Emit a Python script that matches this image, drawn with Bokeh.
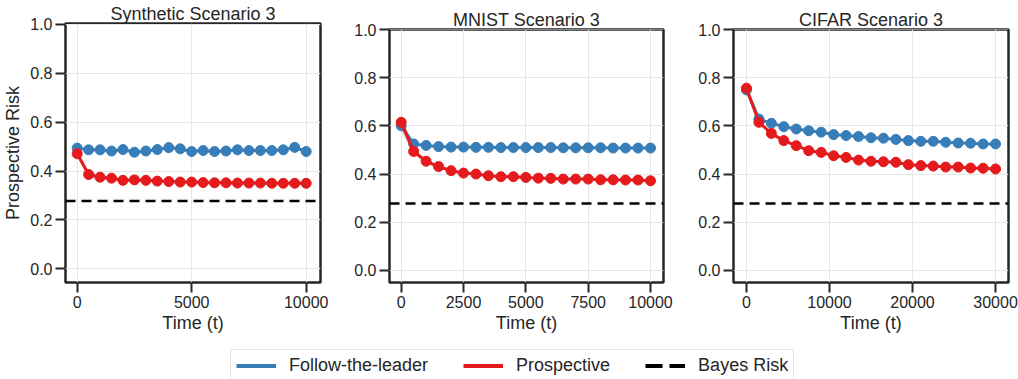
from bokeh.plotting import figure
from bokeh.layouts import row, column
from bokeh.models import FixedTicker, Span, Legend, LegendItem, Range1d, NumeralTickFormatter
from bokeh.embed import file_html
from bokeh.resources import INLINE

# ---------------- data ----------------
titles = ["Synthetic Scenario 3", "MNIST Scenario 3", "CIFAR Scenario 3"]

t_syn = list(range(0, 10001, 500))
t_mnist = list(range(0, 10001, 500))
t_cifar = list(range(0, 30001, 1500))

ftl_syn = [0.494, 0.487, 0.487, 0.482, 0.488, 0.477, 0.482, 0.488, 0.496, 0.491, 0.480,
           0.484, 0.480, 0.482, 0.487, 0.484, 0.484, 0.484, 0.487, 0.497, 0.480]
pro_syn = [0.471, 0.386, 0.375, 0.371, 0.362, 0.364, 0.362, 0.359, 0.357, 0.355, 0.355,
           0.353, 0.352, 0.352, 0.351, 0.351, 0.351, 0.350, 0.350, 0.350, 0.350]
pro_syn_sd = [0.012, 0.015, 0.008, 0.006, 0.005, 0.005, 0.004, 0.004, 0.004, 0.004, 0.004,
              0.004, 0.004, 0.004, 0.004, 0.004, 0.004, 0.004, 0.004, 0.004, 0.004]

ftl_mnist = [0.601, 0.525, 0.519, 0.514, 0.512, 0.512, 0.511, 0.511, 0.510, 0.510, 0.510,
             0.510, 0.510, 0.509, 0.509, 0.509, 0.509, 0.508, 0.508, 0.508, 0.508]
pro_mnist = [0.615, 0.494, 0.453, 0.431, 0.414, 0.404, 0.400, 0.393, 0.389, 0.389, 0.386,
             0.383, 0.382, 0.379, 0.379, 0.379, 0.376, 0.376, 0.375, 0.375, 0.372]
pro_mnist_sd = [0.035, 0.012, 0.008, 0.007, 0.006, 0.005, 0.005, 0.005, 0.005, 0.005, 0.005,
                0.005, 0.005, 0.005, 0.005, 0.005, 0.005, 0.005, 0.005, 0.005, 0.005]

ftl_cifar = [0.750, 0.629, 0.611, 0.597, 0.587, 0.580, 0.574, 0.564, 0.560, 0.556, 0.551,
             0.549, 0.544, 0.539, 0.536, 0.536, 0.532, 0.529, 0.528, 0.525, 0.525]
pro_cifar = [0.757, 0.615, 0.569, 0.539, 0.518, 0.497, 0.490, 0.476, 0.469, 0.458, 0.453,
             0.451, 0.449, 0.439, 0.435, 0.433, 0.429, 0.429, 0.425, 0.424, 0.421]
pro_cifar_sd = [0.012, 0.008, 0.006, 0.005, 0.005, 0.005, 0.005, 0.005, 0.005, 0.005, 0.005,
                0.005, 0.005, 0.005, 0.005, 0.005, 0.005, 0.005, 0.005, 0.005, 0.005]

bayes_risk = [0.278, 0.278, 0.278]

x_ticks = [[0, 5000, 10000], [0, 2500, 5000, 7500, 10000], [0, 10000, 20000, 30000]]
y_ticks = [0.0, 0.2, 0.4, 0.6, 0.8, 1.0]

legend_labels = ["Follow-the-leader", "Prospective", "Bayes Risk"]

# ---------------- style ----------------
BLUE = "#377eb8"
RED = "#e41a1c"
DARK = "#262626"
FONT = "Liberation Sans"

times = [t_syn, t_mnist, t_cifar]
ftls = [ftl_syn, ftl_mnist, ftl_cifar]
pros = [pro_syn, pro_mnist, pro_cifar]
sds = [pro_syn_sd, pro_mnist_sd, pro_cifar_sd]
x_ranges = [(-510, 10625), (-469, 10521), (-1560, 31560)]
y_ranges = [(-0.056, 1.004), (-0.051, 1.001), (-0.051, 1.001)]
widths = [340, 343, 335]
borders_left = [65, 49, 50]
borders_right = [20, 20, 10]
borders_top = [23, 29, 29]

panels = []
for i in range(3):
    p = figure(width=widths[i], height=345,
               x_range=Range1d(*x_ranges[i]), y_range=Range1d(*y_ranges[i]),
               output_backend="svg", toolbar_location=None, frame_align=False,
               min_border_left=borders_left[i], min_border_right=borders_right[i],
               min_border_top=borders_top[i], min_border_bottom=63)
    p.title.text = titles[i]
    p.title.align = "center"
    p.title.text_font = FONT
    p.title.text_font_size = "18px"
    p.title.text_font_style = "normal"
    p.title.text_color = DARK
    p.title.standoff = 0

    p.xaxis.ticker = FixedTicker(ticks=x_ticks[i])
    p.yaxis.ticker = FixedTicker(ticks=y_ticks)
    p.xaxis.formatter = NumeralTickFormatter(format="0")
    p.yaxis.formatter = NumeralTickFormatter(format="0.0")
    for ax in (p.xaxis, p.yaxis):
        ax.axis_line_color = None
        ax.major_tick_out = 10
        ax.major_tick_in = 0
        ax.major_tick_line_width = 2
        ax.major_tick_line_color = DARK
        ax.minor_tick_line_color = None
        ax.major_label_text_font = FONT
        ax.major_label_text_font_size = "16px"
        ax.major_label_text_color = DARK
        ax.major_label_standoff = 3
        ax.axis_label_text_font = FONT
        ax.axis_label_text_font_size = "18px"
        ax.axis_label_text_font_style = "normal"
        ax.axis_label_text_color = DARK
    p.xaxis.axis_label = "Time (t)"
    p.xaxis.axis_label_standoff = 2
    if i == 0:
        p.yaxis.axis_label = "Prospective Risk"
        p.yaxis.axis_label_standoff = 4

    p.xgrid.grid_line_color = "#e6e6e6"
    p.ygrid.grid_line_color = "#e6e6e6"
    p.xgrid.grid_line_width = 1
    p.ygrid.grid_line_width = 1
    p.outline_line_color = DARK
    p.outline_line_width = 2.5
    p.outline_line_alpha = 1

    t = times[i]
    lo = [a - s for a, s in zip(pros[i], sds[i])]
    hi = [a + s for a, s in zip(pros[i], sds[i])]
    p.varea(x=t, y1=lo, y2=hi, fill_color=RED, fill_alpha=0.25)
    p.line(t, ftls[i], line_color=BLUE, line_width=3)
    p.scatter(t, ftls[i], size=10, fill_color=BLUE, line_color=BLUE)
    p.line(t, pros[i], line_color=RED, line_width=3)
    p.scatter(t, pros[i], size=10, fill_color=RED, line_color=RED)
    p.add_layout(Span(location=bayes_risk[i], dimension="width", line_color="black",
                      line_width=2.5, line_dash="10 6"))
    panels.append(p)

# ---------------- legend strip ----------------
# proxy renderers: the series are drawn outside this strip's visible range,
# only their legend glyphs show
leg = figure(width=1018, height=34, output_backend="svg", toolbar_location=None,
             x_range=Range1d(-3, -2), y_range=Range1d(-3, -2), min_border=0,
             frame_align=False, x_axis_location=None, y_axis_location=None)
leg.grid.visible = False
leg.outline_line_color = None
r1 = leg.line(x=t_syn, y=ftl_syn, line_color=BLUE, line_width=4)
r2 = leg.line(x=t_syn, y=pro_syn, line_color=RED, line_width=4)
r3 = leg.line(x=[t_syn[0], t_syn[-1]], y=bayes_risk[:2], line_color="black",
              line_width=4, line_dash="17 7")
legend = Legend(items=[LegendItem(label=legend_labels[0], renderers=[r1]),
                       LegendItem(label=legend_labels[1], renderers=[r2]),
                       LegendItem(label=legend_labels[2], renderers=[r3])],
                orientation="horizontal", location=(230, -3),
                label_text_font=FONT, label_text_font_size="18px", label_text_color=DARK,
                label_height=21, glyph_width=40, glyph_height=21, label_standoff=13,
                spacing=35, padding=5, margin=0,
                border_line_color="#cccccc", border_line_width=1.2,
                background_fill_color="white", background_fill_alpha=1)
leg.add_layout(legend)

layout = column(row(*panels, spacing=0), leg, spacing=0)
open("out.html", "w").write(file_html(layout, INLINE))
